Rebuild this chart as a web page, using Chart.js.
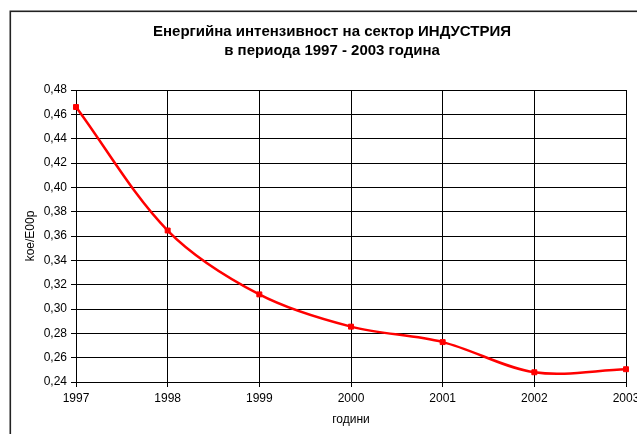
<!DOCTYPE html>
<html>
<head>
<meta charset="utf-8">
<script src="https://cdn.jsdelivr.net/npm/chart.js@4/dist/chart.umd.min.js"></script>
<style>
  html, body { margin: 0; padding: 0; background: #fff; overflow: hidden; }
  #wrap { width: 637px; height: 434px; overflow: hidden; position: relative; }
  canvas { display: block; }
</style>
</head>
<body>
<div id="wrap"><canvas id="c" width="664" height="434"></canvas></div>
<script>
const titleLines = ['Енергийна интензивност на сектор ИНДУСТРИЯ', 'в периода 1997 - 2003 година'];
const years = [1997, 1998, 1999, 2000, 2001, 2002, 2003];
const intensity = [0.466, 0.3645, 0.312, 0.2855, 0.2728, 0.248, 0.2505];
const yAxisTitle = 'koe/E00p';
const xAxisTitle = 'години';

const FONT = "'Liberation Sans', Arial, sans-serif";

const framePlugin = {
  id: 'frameAndTitle',
  beforeDraw(chart) {
    const ctx = chart.ctx;
    ctx.save();
    ctx.fillStyle = '#fff';
    ctx.fillRect(0, 0, chart.width, chart.height);
    ctx.strokeStyle = '#222';
    ctx.lineWidth = 1.6;
    ctx.strokeRect(10.3, 11.3, 644, 440);
    ctx.restore();
  },
  afterDraw(chart) {
    const ctx = chart.ctx;
    ctx.save();
    ctx.fillStyle = '#000';
    ctx.font = 'bold 15px ' + FONT;
    ctx.textAlign = 'center';
    ctx.textBaseline = 'middle';
    ctx.fillText(titleLines[0], 332, 32);
    ctx.fillText(titleLines[1], 332, 51);
    ctx.restore();
  }
};

new Chart(document.getElementById('c'), {
  type: 'line',
  data: {
    datasets: [{
      data: years.map((y, i) => ({ x: y, y: intensity[i] })),
      borderColor: '#ff0000',
      backgroundColor: '#ff0000',
      borderWidth: 2.5,
      pointStyle: 'rect',
      pointRadius: 3.5,
      pointBorderWidth: 1,
      pointBorderColor: '#ff0000',
      pointBackgroundColor: '#ff0000',
      tension: 0.33,
      clip: false,
      fill: false
    }]
  },
  options: {
    responsive: false,
    animation: false,
    devicePixelRatio: 1,
    layout: { padding: { left: 10, top: 90, right: 38, bottom: 0 } },
    plugins: {
      legend: { display: false },
      title: { display: false },
      tooltip: { enabled: false }
    },
    scales: {
      x: {
        type: 'linear',
        min: 1997, max: 2003,
        afterFit(scale) { scale.height = 52; },
        ticks: {
          stepSize: 1,
          color: '#000',
          font: { family: FONT, size: 12 },
          padding: 4,
          maxRotation: 0,
          callback: v => String(v)
        },
        grid: { color: '#000', lineWidth: 1, tickLength: 5, drawTicks: true },
        border: { color: '#000', width: 1 },
        title: {
          display: true, text: xAxisTitle, color: '#000',
          font: { family: FONT, size: 12 }, padding: { top: 4, bottom: 7 }
        }
      },
      y: {
        min: 0.24, max: 0.48,
        afterFit(scale) { scale.width = 66; },
        ticks: {
          stepSize: 0.02,
          color: '#000',
          font: { family: FONT, size: 12 },
          padding: 4,
          callback: v => v.toFixed(2).replace('.', ',')
        },
        grid: { color: '#000', lineWidth: 1, tickLength: 5, drawTicks: true },
        border: { color: '#000', width: 1 },
        title: {
          display: true, text: yAxisTitle, color: '#000',
          font: { family: FONT, size: 12 }, padding: { top: 13, bottom: 2 }
        }
      }
    }
  },
  plugins: [framePlugin]
});
</script>
</body>
</html>
